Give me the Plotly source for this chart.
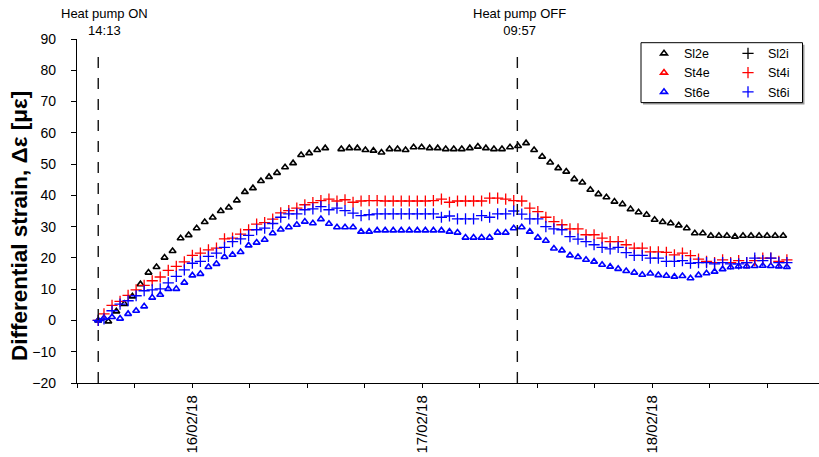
import plotly.graph_objects as go
import pandas as pd

# ---------------- data ----------------
ON_TIME = "2018-02-15 14:13"
OFF_TIME = "2018-02-17 09:57"
ON_LABEL = "Heat pump ON<br>14:13"
OFF_LABEL = "Heat pump OFF<br>09:57"
SAMPLE_STEP = "3018s"            # logger interval (~50 min)
SL2E_FIRST = "2018-02-15 15:16"  # first regular sample of Sl2e
ST_FIRST = "2018-02-15 14:49"    # first regular sample of St4i/St6e/St6i

sl2e = [0, -0.3, 2.9, 5.3, 7.7, 11.6, 15.3, 17.1, 20.1, 22.2,
        26.3, 27.3, 29.5, 31.5, 32.9, 35.0, 36.1, 38.4, 41.1, 42.3,
        44.6, 45.9, 47.2, 49.0, 50.3, 52.9, 53.5, 54.5, 55.1, None,
        54.8, 55.1, 55.1, 54.5, 54.3, 53.7, 54.8, 54.8, 54.5, 55.4,
        55.4, 55.1, 55.1, 54.8, 54.8, 54.8, 55.1, 55.6, 55.1, 54.8,
        54.8, 55.4, 55.8, 56.7, 54.5, 52.4, 50.5, 48.7, 47.6, 45.2,
        44.1, 41.8, 40.4, 39.4, 38.0, 37.2, 35.6, 34.6, 33.8, 32.2,
        31.5, 31.1, 30.4, 29.5, 27.9, 27.9, 27.1, 27.1, 27.1, 26.8,
        27.1, 27.1, 27.1, 27.1, 27.1, 27.1]
st4e = [None]   # no readings shown for St4e
st6e = [0.0, 0.8, 1.1, 0.6, 2.1, 3.1, 4.5, 7.3, 8.2, 10.1,
        10.1, 12.1, 14.4, 14.9, 17.1, 18.1, 20.3, 21.0, 21.9, 24.0,
        24.9, 25.8, 27.9, 29.1, 29.8, 30.6, 31.6, 31.1, 32.4, 30.9,
        29.8, 29.8, 29.8, 28.4, 28.4, 28.8, 28.8, 28.8, 28.8, 28.8,
        28.8, 28.8, 28.8, 28.8, 28.4, 28.1, 26.5, 26.5, 26.5, 26.5,
        28.1, 28.1, 29.5, 29.8, 28.4, 26.5, 25.5, 23.0, 22.4, 20.8,
        20.3, 19.4, 18.8, 17.8, 17.2, 16.5, 15.8, 15.3, 14.6, 15.0,
        14.5, 14.3, 14.0, 14.2, 13.5, 14.5, 15.1, 15.6, 16.4, 17.0,
        17.3, 17.3, 17.4, 17.5, 17.4, 17.3, 17.1]
sl2i = [None]   # no readings shown for Sl2i
st4i = [0, 2.1, 4.8, 6.1, 8.0, 9.8, 11.2, 12.7, 13.9, 16.0,
        17.3, 18.7, 20.8, 21.5, 22.6, 23.1, 26.1, 26.3, 27.6, 29.0,
        30.8, 31.3, 32.4, 34.4, 35.1, 35.9, 37.0, 37.7, 38.3, 38.8,
        38.2, 38.6, 37.8, 38.2, 38.3, 38.3, 38.2, 38.2, 38.2, 38.2,
        38.2, 38.2, 38.3, 38.8, 37.8, 38.2, 38.2, 38.2, 38.2, 39.1,
        39.1, 38.8, 38.3, 38.2, 35.9, 34.8, 33.0, 31.6, 30.6, 29.3,
        29.3, 27.4, 27.4, 26.3, 25.2, 25.2, 24.2, 23.1, 23.1, 21.9,
        21.9, 21.8, 21.0, 21.5, 20.7, 19.6, 18.9, 18.5, 19.4, 18.5,
        19.1, 18.5, 19.1, 19.9, 19.9, 18.9, 19.4]
st6i = [0, 0.5, 3.1, 5.2, 6.3, 7.9, 9.5, 9.8, 10.1, 12.0,
        14.1, 16.2, 18.3, 18.9, 20.5, 21.5, 23.4, 25.2, 26.1, 27.2,
        29.0, 29.5, 31.0, 33.0, 34.1, 34.1, 35.4, 35.7, 36.4, 35.4,
        35.9, 35.1, 34.3, 33.5, 33.8, 34.1, 34.1, 34.1, 34.1, 34.1,
        34.1, 34.1, 34.1, 33.0, 33.4, 32.5, 32.5, 32.5, 33.5, 33.0,
        34.1, 34.1, 35.0, 34.0, 32.5, 32.5, 30.0, 29.3, 29.0, 26.8,
        26.0, 25.2, 24.2, 23.4, 22.9, 23.4, 21.7, 20.8, 20.8, 19.9,
        19.9, 18.9, 18.9, 19.1, 18.3, 18.5, 18.5, 18.1, 18.5, 18.1,
        18.1, 18.5, 19.9, 19.1, 19.9, 18.5, 18.5]

X_START = "2018-02-15 12:00"
X_END = "2018-02-18 17:25:34"
TICK_END = "2018-02-18 18:00"
TICK_STEP = "6h"
Y_MIN, Y_MAX, Y_STEP = -20, 90, 10
Y_TITLE = "Differential strain, Δε [με]"


def sample_times(first_regular, n_values):
    regular = pd.date_range(first_regular, periods=max(n_values - 1, 0), freq=SAMPLE_STEP)
    return pd.DatetimeIndex([pd.Timestamp(ON_TIME)]).append(regular)


t_sl2 = sample_times(SL2E_FIRST, len(sl2e))
t_st = sample_times(ST_FIRST, len(st6e))

tick_vals = pd.date_range(X_START, TICK_END, freq=TICK_STEP)
tick_text = [t.strftime("%d/%m/%y") if t.hour == 0 else "" for t in tick_vals]

# ---------------- figure ----------------
W, H = 819, 457
ML, MR, MT, MB = 77, 0, 38.8, 73.7
PW, PH = W - ML - MR, H - MT - MB


def px_x(sx):
    return (sx - ML) / PW


def px_y(sy):
    return (H - MB - sy) / PH


FONT = "Arial, Liberation Sans, sans-serif"
BLACK, RED, BLUE = "#000000", "#FF0000", "#0000FF"

tri = dict(symbol="triangle-up-open", size=6, width=1.6)
crs = dict(symbol="cross-thin-open", size=8, width=1.3)

fig = go.Figure()
series = [
    ("Sl2e", t_sl2, sl2e, BLACK, tri, "legend"),
    ("St4e", t_st[:len(st4e)], st4e, RED, tri, "legend"),
    ("St6e", t_st, st6e, BLUE, tri, "legend"),
    ("Sl2i", t_sl2[:len(sl2i)], sl2i, BLACK, crs, "legend2"),
    ("St4i", t_st, st4i, RED, crs, "legend2"),
    ("St6i", t_st, st6i, BLUE, crs, "legend2"),
]
for name, tx, vals, col, mk, lg in series:
    fig.add_trace(go.Scatter(
        x=list(tx), y=vals, name=name, mode="markers", legend=lg,
        marker=dict(symbol=mk["symbol"], size=mk["size"], color=col,
                    line=dict(color=col, width=mk["width"])),
        showlegend=True, cliponaxis=False,
    ))

# heat pump switch lines
for t in (ON_TIME, OFF_TIME):
    fig.add_shape(type="line", xref="x", yref="y", x0=t, x1=t,
                  y0=Y_MIN, y1=85, line=dict(color="#111111", width=1.4, dash="11px,10px"))

fig.add_annotation(x=ON_TIME, y=1, xref="x", yref="paper", text=ON_LABEL, showarrow=False,
                   xanchor="center", yanchor="bottom", xshift=6, yshift=-1,
                   font=dict(family=FONT, size=13, color="#000000"))
fig.add_annotation(x=OFF_TIME, y=1, xref="x", yref="paper", text=OFF_LABEL, showarrow=False,
                   xanchor="center", yanchor="bottom", xshift=2, yshift=-1,
                   font=dict(family=FONT, size=13, color="#000000"))

# y title
fig.add_annotation(x=px_x(20), y=px_y(226), xref="paper", yref="paper", text="<b>" + Y_TITLE + "</b>",
                   textangle=-90, showarrow=False, xanchor="center", yanchor="middle",
                   font=dict(family=FONT, size=22.5, color="#000000"))

# legend frame with shadow
fig.add_shape(type="rect", xref="paper", yref="paper", x0=px_x(643), x1=px_x(804.5),
              y0=px_y(104.5), y1=px_y(44.5), line=dict(width=0), fillcolor="#9a9a9a", layer="above")
fig.add_shape(type="rect", xref="paper", yref="paper", x0=px_x(641), x1=px_x(802.5),
              y0=px_y(102.5), y1=px_y(42.5), line=dict(color="#000000", width=1),
              fillcolor="#ffffff", layer="above")

fig.update_layout(
    width=W, height=H,
    margin=dict(l=ML, r=MR, t=MT, b=MB, pad=0, autoexpand=False),
    paper_bgcolor="white", plot_bgcolor="white",
    font=dict(family=FONT, size=14, color="#000000"),
    xaxis=dict(type="date", range=[X_START, X_END], tickmode="array",
               tickvals=list(tick_vals), ticktext=tick_text, tickangle=-90,
               ticks="outside", ticklen=4, tickwidth=1.2, tickcolor="#000000",
               showline=True, linecolor="#000000", linewidth=1.4, showgrid=False,
               zeroline=False, automargin=False, ticklabelstandoff=1,
               tickfont=dict(family=FONT, size=15, color="#000000")),
    yaxis=dict(range=[Y_MIN, Y_MAX], dtick=Y_STEP, tick0=0,
               ticks="outside", ticklen=5, tickwidth=1.2, tickcolor="#000000",
               showline=True, linecolor="#000000", linewidth=1.4, showgrid=False,
               zeroline=False, automargin=False, ticklabelstandoff=12,
               tickfont=dict(family=FONT, size=14, color="#000000")),
    legend=dict(x=px_x(644), y=px_y(38.5), xanchor="left", yanchor="top",
                bgcolor="rgba(0,0,0,0)", borderwidth=0, tracegroupgap=0,
                font=dict(family=FONT, size=12.5, color="#000000"), itemclick=False),
    legend2=dict(x=px_x(728), y=px_y(38.5), xanchor="left", yanchor="top",
                 bgcolor="rgba(0,0,0,0)", borderwidth=0, tracegroupgap=0,
                 font=dict(family=FONT, size=12.5, color="#000000"), itemclick=False),
)

fig.write_html("out.html", config={"displayModeBar": False},
               post_script="document.body.style.margin='0px';")
